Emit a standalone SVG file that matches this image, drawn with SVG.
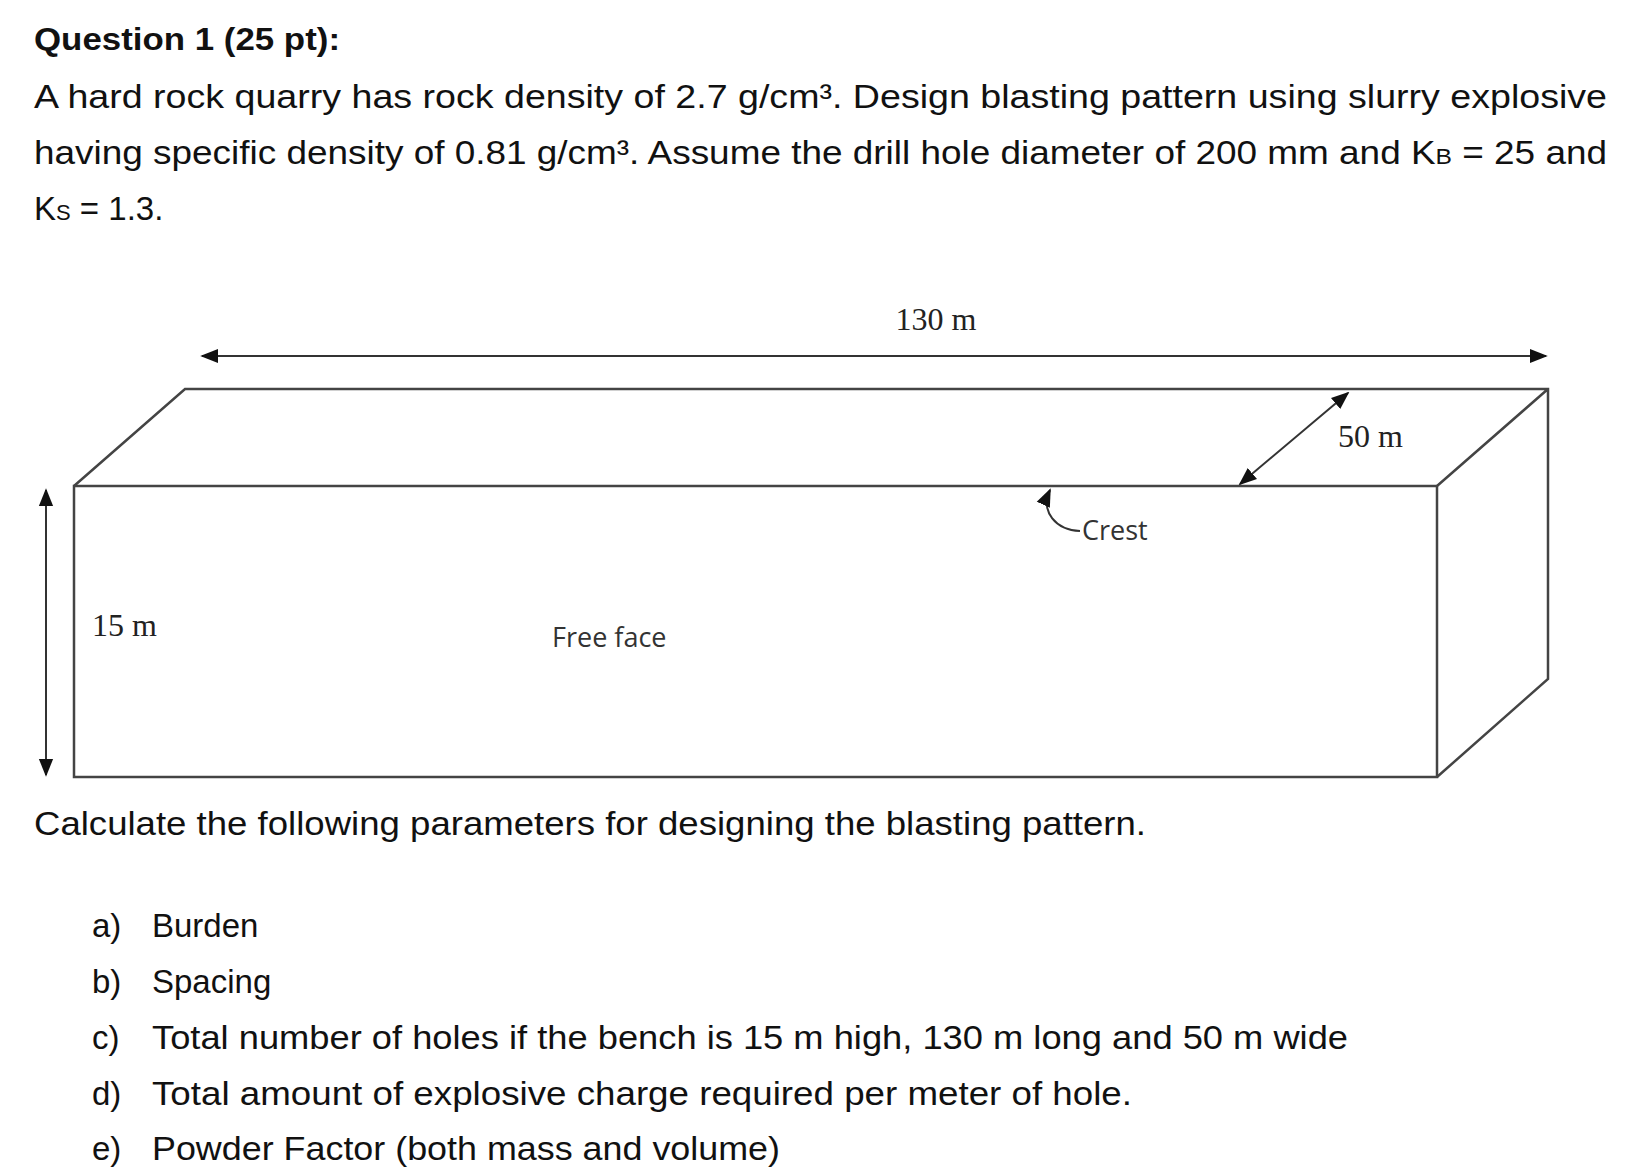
<svg xmlns="http://www.w3.org/2000/svg" width="1638" height="1176" viewBox="0 0 1638 1176">
<defs>
<style>
.t{font-family:"Liberation Sans","Noto Sans",sans-serif;font-size:33px;fill:#111}
.b{font-weight:bold;font-size:31px}
.s{font-family:"Liberation Serif",serif;font-size:32px;fill:#222}
.l{font-family:"Open Sans","Liberation Sans",sans-serif;font-size:27px;fill:#333}
.e{stroke:#444;stroke-width:2.5;fill:none}
</style>
<marker id="ah" viewBox="0 0 10 10" refX="9" refY="5" markerWidth="9" markerHeight="9" orient="auto-start-reverse"><path d="M0,1 L10,5 L0,9 z" fill="#111"/></marker>
</defs>
<rect width="1638" height="1176" fill="#fff"/>
<text class="t b" x="34" y="50" textLength="306" lengthAdjust="spacingAndGlyphs">Question 1 (25 pt):</text>
<text class="t" x="34" y="108" textLength="1573" lengthAdjust="spacingAndGlyphs">A hard rock quarry has rock density of 2.7 g/cm³. Design blasting pattern using slurry explosive</text>
<text class="t" x="34" y="164" textLength="1573" lengthAdjust="spacingAndGlyphs">having specific density of 0.81 g/cm³. Assume the drill hole diameter of 200 mm and K<tspan font-size="22">B</tspan> = 25 and</text>
<text class="t" x="34" y="220">K<tspan font-size="22">S</tspan> = 1.3.</text>
<g id="box">
<path class="e" d="M74,486 L185,389 L1548,389 L1548,679 L1437,777 M1437,486 L1548,389"/>
<rect class="e" x="74" y="486" width="1363" height="291"/>
</g>
<g id="connectors">
<line x1="202" y1="356" x2="1546" y2="356" stroke="#333" stroke-width="2" marker-start="url(#ah)" marker-end="url(#ah)"/>
<line x1="46" y1="490" x2="46" y2="775" stroke="#333" stroke-width="2" marker-start="url(#ah)" marker-end="url(#ah)"/>
<line x1="1240" y1="484" x2="1348" y2="393" stroke="#333" stroke-width="2" marker-start="url(#ah)" marker-end="url(#ah)"/>
<path d="M1080,531 C1056,530 1040,512 1050,490" stroke="#333" stroke-width="2" fill="none" marker-end="url(#ah)"/>
</g>
<g id="labels">
<text class="s" x="936" y="330" text-anchor="middle">130 m</text>
<text class="s" x="1338" y="447">50 m</text>
<text class="s" x="92" y="636">15 m</text>
<text class="l" x="552" y="647">Free face</text>
<text class="l" x="1082" y="540">Crest</text>
</g>
<text class="t" x="34" y="835" textLength="1112" lengthAdjust="spacingAndGlyphs">Calculate the following parameters for designing the blasting pattern.</text>
<g class="t">
<text x="92" y="937">a)</text><text x="152" y="937">Burden</text>
<text x="92" y="993">b)</text><text x="152" y="993">Spacing</text>
<text x="92" y="1049">c)</text><text x="152" y="1049" textLength="1196" lengthAdjust="spacingAndGlyphs">Total number of holes if the bench is 15 m high, 130 m long and 50 m wide</text>
<text x="92" y="1105">d)</text><text x="152" y="1105" textLength="980" lengthAdjust="spacingAndGlyphs">Total amount of explosive charge required per meter of hole.</text>
<text x="92" y="1160">e)</text><text x="152" y="1160" textLength="628" lengthAdjust="spacingAndGlyphs">Powder Factor (both mass and volume)</text>
</g>
</svg>
